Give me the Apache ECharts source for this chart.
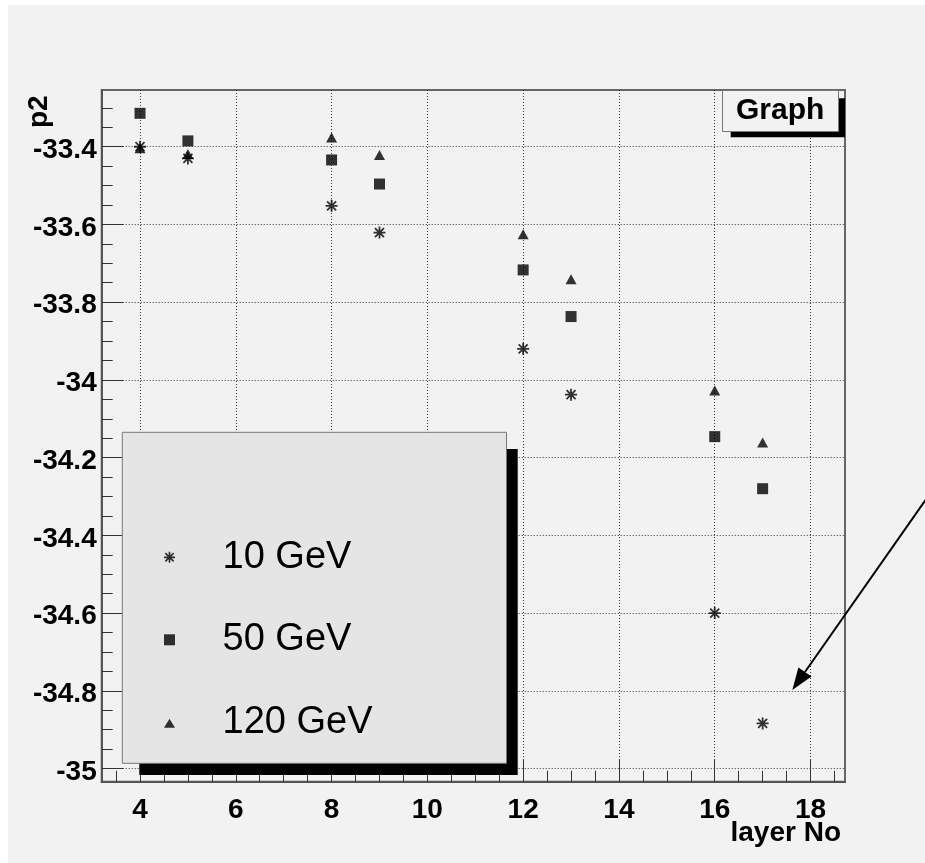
<!DOCTYPE html>
<html>
<head>
<meta charset="utf-8">
<title>p2 vs layer No</title>
<script src="https://cdn.jsdelivr.net/npm/echarts@6/dist/echarts.min.js"></script>
<style>
  html, body { margin: 0; padding: 0; background: #ffffff; }
  #pad { position: absolute; left: 8px; top: 5px; width: 917px; height: 858px; background: #f2f2f2; }
  #chart { position: absolute; left: 0; top: 0; width: 925px; height: 863px; }
</style>
</head>
<body>
<div id="pad"></div>
<div id="chart"></div>
<script>
// Layer numbers and fitted p2 per beam energy
const layers = [4, 5, 8, 9, 12, 13, 16, 17];
const p2_10GeV = [-33.400, -33.430, -33.552, -33.621, -33.920, -34.038, -34.600, -34.884];
const p2_50GeV = [-33.314, -33.385, -33.434, -33.496, -33.717, -33.837, -34.146, -34.280];
const p2_120GeV = [-33.404, -33.419, -33.376, -33.421, -33.625, -33.741, -34.027, -34.161];
const seriesNames = ['10 GeV', '50 GeV', '120 GeV'];

// Axis ranges and ticks
const xRange = [3.2, 18.72];
const yRange = [-35.034, -33.254];
const xTicks = [4, 6, 8, 10, 12, 14, 16, 18];
const xMinorTicks = [3.5, 4.5, 5, 5.5, 6.5, 7, 7.5, 8.5, 9, 9.5, 10.5, 11, 11.5,
                     12.5, 13, 13.5, 14.5, 15, 15.5, 16.5, 17, 17.5, 18.5];
const yTicks = [-35, -34.8, -34.6, -34.4, -34.2, -34, -33.8, -33.6, -33.4];
const yMinorTicks = [-34.95, -34.9, -34.85, -34.75, -34.7, -34.65, -34.55, -34.5, -34.45,
                     -34.35, -34.3, -34.25, -34.15, -34.1, -34.05, -33.95, -33.9, -33.85,
                     -33.75, -33.7, -33.65, -33.55, -33.5, -33.45, -33.35, -33.3];

// Arrow annotation (data coordinates): tail, head
const arrowTail = [20.8, -34.239];
const arrowHead = [17.62, -34.798];

// Marker shapes
const starPath = 'path://M0 5.1L12 5.1L12 6.9L0 6.9Z M5.1 0L6.9 0L6.9 12L5.1 12Z ' +
  'M2.14 0.86L11.14 9.86L9.86 11.14L0.86 2.14Z M11.14 2.14L2.14 11.14L0.86 9.86L9.86 0.86Z';
const squarePath = 'path://M0 0L10 0L10 10L0 10Z';
const trianglePath = 'path://M0 -1 M6 1L12 11L0 11Z';

const FONT = '"Liberation Sans", Arial, Helvetica, sans-serif';
const boldLabel = { fontFamily: FONT, fontSize: 28, fontWeight: 'bold', color: '#000' };

function pairs(ys) { return layers.map((x, i) => [x, ys[i]]); }

const chart = echarts.init(document.getElementById('chart'), null, { renderer: 'canvas' });

const tickStyle = { color: '#333', width: 1 };
const gridLineStyle = { color: '#333', width: 1, type: [1, 2] };

const option = {
  animation: false,
  backgroundColor: 'transparent',
  textStyle: { fontFamily: FONT },
  title: {
    text: 'Graph',
    left: 722, top: 90,
    padding: [6, 14, 6, 14],
    backgroundColor: '#f2f2f2',
    borderColor: '#777', borderWidth: 1,
    textStyle: { fontFamily: FONT, fontSize: 30, fontWeight: 'bold', color: '#000', lineHeight: 30 },
    z: 12
  },
  legend: {
    orient: 'vertical',
    left: 122.3, top: 432.3,
    padding: [105, 134, 21, 41.7],
    itemGap: 42.5,
    itemWidth: 12, itemHeight: 11,
    symbolKeepAspect: true,
    selectedMode: false,
    backgroundColor: '#e5e5e5',
    borderColor: '#777', borderWidth: 1,
    formatter: name => '{t|' + name + '}',
    textStyle: {
      fontFamily: FONT, fontSize: 38, color: '#000', lineHeight: 40,
      rich: { t: { fontFamily: FONT, fontSize: 38, color: '#000', lineHeight: 40, padding: [0, 0, 0, 42] } }
    },
    data: [
      { name: seriesNames[0], icon: starPath },
      { name: seriesNames[1], icon: squarePath },
      { name: seriesNames[2], icon: trianglePath }
    ],
    z: 12
  },
  grid: {
    left: 101.7, top: 90, right: 80, bottom: 81.3,
    show: true, backgroundColor: 'transparent',
    borderColor: '#666', borderWidth: 2,
    containLabel: false, outerBoundsMode: 'none'
  },
  xAxis: [
    {
      type: 'value', min: xRange[0], max: xRange[1], position: 'bottom',
      name: 'layer No', nameLocation: 'end', nameGap: -4, nameMoveOverlap: false,
      nameTextStyle: Object.assign({}, boldLabel, { align: 'right', verticalAlign: 'top', lineHeight: 28, padding: [38, 0, 0, 0] }),
      axisLine: { show: true, onZero: false, lineStyle: { color: '#555', width: 2 } },
      axisTick: { show: true, inside: true, length: 22, customValues: xTicks, lineStyle: tickStyle },
      axisLabel: Object.assign({ show: true, customValues: xTicks, margin: 15, formatter: v => String(v) }, boldLabel),
      splitLine: { show: true, lineStyle: gridLineStyle },
      minorTick: { show: false }, minorSplitLine: { show: false }
    },
    {
      type: 'value', min: xRange[0], max: xRange[1], position: 'bottom',
      axisLine: { show: false },
      axisTick: { show: true, inside: true, length: 11, customValues: xMinorTicks, lineStyle: tickStyle },
      axisLabel: { show: false },
      splitLine: { show: false }
    }
  ],
  yAxis: [
    {
      type: 'value', min: yRange[0], max: yRange[1], position: 'left',
      name: 'p2', nameLocation: 'end', nameRotate: 90, nameGap: -38, nameMoveOverlap: false,
      nameTextStyle: Object.assign({}, boldLabel, { align: 'left', verticalAlign: 'bottom', lineHeight: 28, padding: [0, 0, 48, 0] }),
      axisLine: { show: true, onZero: false, lineStyle: { color: '#555', width: 2 } },
      axisTick: { show: true, inside: true, length: 22, customValues: yTicks, lineStyle: tickStyle },
      axisLabel: Object.assign({
        show: true, customValues: yTicks, margin: 5,
        formatter: v => '{v|' + String(v) + '}',
        rich: { v: Object.assign({}, boldLabel, { lineHeight: 28, padding: [7, 0, 0, 0] }) }
      }, boldLabel),
      splitLine: { show: true, lineStyle: gridLineStyle },
      minorTick: { show: false }, minorSplitLine: { show: false }
    },
    {
      type: 'value', min: yRange[0], max: yRange[1], position: 'left',
      axisLine: { show: false },
      axisTick: { show: true, inside: true, length: 11, customValues: yMinorTicks, lineStyle: tickStyle },
      axisLabel: { show: false },
      splitLine: { show: false }
    }
  ],
  series: [
    {
      type: 'scatter', name: seriesNames[0], data: pairs(p2_10GeV),
      symbol: starPath, symbolSize: 12,
      itemStyle: { color: '#000' }, emphasis: { disabled: true }, z: 3
    },
    {
      type: 'scatter', name: seriesNames[1], data: pairs(p2_50GeV),
      symbol: 'rect', symbolSize: [11, 11],
      itemStyle: { color: '#000' }, emphasis: { disabled: true }, z: 3
    },
    {
      type: 'scatter', name: seriesNames[2], data: pairs(p2_120GeV),
      symbol: 'triangle', symbolSize: [11, 10],
      itemStyle: { color: '#000' }, emphasis: { disabled: true }, z: 3
    }
  ]
};

chart.setOption(option);

// Drop shadows behind the legend and title boxes, and the arrow annotation
function drawDecorations() {
  const tail = chart.convertToPixel({ xAxisIndex: 0, yAxisIndex: 0 }, arrowTail);
  const head = chart.convertToPixel({ xAxisIndex: 0, yAxisIndex: 0 }, arrowHead);
  const dx = tail[0] - head[0], dy = tail[1] - head[1];
  const len = Math.sqrt(dx * dx + dy * dy);
  const ux = dx / len, uy = dy / len;
  const headLen = 22, halfW = 8;
  const bx = head[0] + ux * headLen, by = head[1] + uy * headLen;
  const px = -uy, py = ux;
  chart.setOption({
    graphic: [
      {
        type: 'rect', z: 8, silent: true,
        shape: { x: 139.3, y: 449, width: 378.4, height: 326 },
        style: { fill: '#000' }
      },
      {
        type: 'rect', z: 8, silent: true,
        shape: { x: 730.7, y: 98.3, width: 114.3, height: 39 },
        style: { fill: '#000' }
      },
      {
        type: 'line', z: 20, silent: true,
        shape: { x1: tail[0], y1: tail[1], x2: bx, y2: by },
        style: { stroke: '#000', lineWidth: 2 }
      },
      {
        type: 'polygon', z: 20, silent: true,
        shape: { points: [[head[0], head[1]], [bx + px * halfW, by + py * halfW], [bx - px * halfW, by - py * halfW]] },
        style: { fill: '#000' }
      }
    ]
  });
}
drawDecorations();
</script>
</body>
</html>
